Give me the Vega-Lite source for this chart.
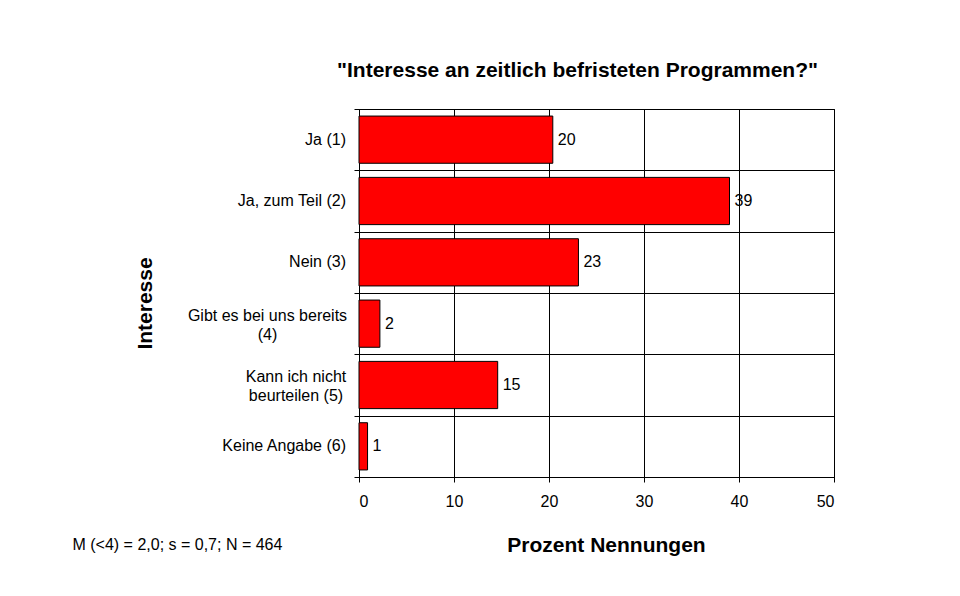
{
  "$schema": "https://vega.github.io/schema/vega-lite/v6.json",
  "width": 475,
  "height": 368,
  "autosize": {"type": "none"},
  "padding": {"left": 359, "top": 109, "right": 126, "bottom": 119},
  "background": "white",
  "config": {
    "font": "Liberation Sans",
    "view": {"stroke": "black", "strokeWidth": 1}
  },
  "title": {
    "text": "\"Interesse an zeitlich befristeten Programmen?\"",
    "fontSize": 21,
    "fontWeight": "bold",
    "color": "black",
    "anchor": "middle",
    "frame": "group",
    "dx": -19,
    "baseline": "alphabetic",
    "offset": 11
  },
  "data": {
    "values": [
      {"kategorie": "Ja (1)", "prozent": 20.4},
      {"kategorie": "Ja, zum Teil (2)", "prozent": 39.0},
      {"kategorie": "Nein (3)", "prozent": 23.1},
      {"kategorie": "Gibt es bei uns bereits|(4)", "prozent": 2.2},
      {"kategorie": "Kann ich nicht|beurteilen (5)", "prozent": 14.6},
      {"kategorie": "Keine Angabe (6)", "prozent": 0.9}
    ]
  },
  "encoding": {
    "x": {
      "field": "prozent",
      "type": "quantitative",
      "scale": {"domain": [0, 50], "nice": false},
      "axis": {
        "values": [0, 10, 20, 30, 40, 50],
        "title": "Prozent Nennungen",
        "titleFontSize": 21,
        "titleFontWeight": "bold",
        "titleColor": "black",
        "titleX": 247,
        "titleY": 74,
        "titleAlign": "center",
        "titleBaseline": "alphabetic",
        "labelFontSize": 16,
        "labelColor": "black",
        "labelPadding": 11,
        "grid": true,
        "gridColor": "black",
        "gridOpacity": 1,
        "tickColor": "black",
        "tickSize": 5,
        "domainColor": "black"
      }
    }
  },
  "layer": [
    {
      "mark": {"type": "bar", "color": "#FF0000", "stroke": "black", "strokeWidth": 1, "height": {"band": 0.77}},
      "encoding": {
        "y": {
          "field": "kategorie",
          "type": "nominal",
          "sort": null,
          "scale": {"paddingInner": 0, "paddingOuter": 0},
          "axis": {
            "orient": "left",
            "title": "Interesse",
            "titleFontSize": 21,
            "titleFontWeight": "bold",
            "titleColor": "black",
            "titleAngle": 270,
            "titleX": -214,
            "titleY": 194,
            "titleAlign": "center",
            "titleBaseline": "middle",
            "labels": false,
            "tickBand": "extent",
            "grid": true,
            "gridColor": "black",
            "gridOpacity": 1,
            "tickColor": "black",
            "tickSize": 5,
            "domainColor": "black"
          }
        }
      }
    },
    {
      "mark": {"type": "text", "align": "left", "baseline": "middle", "dx": 5, "fontSize": 16, "color": "black"},
      "encoding": {
        "y": {
          "field": "kategorie",
          "type": "nominal",
          "sort": null,
          "axis": {
            "orient": "right",
            "labels": false,
            "ticks": false,
            "domain": false,
            "grid": false,
            "title": "M (<4) = 2,0; s = 0,7; N = 464",
            "titleFontSize": 16,
            "titleFontWeight": "normal",
            "titleColor": "black",
            "titleAngle": 0,
            "titleX": -762,
            "titleY": 440,
            "titleAlign": "left",
            "titleBaseline": "alphabetic"
          }
        },
        "text": {"field": "prozent", "type": "quantitative", "format": ".0f"}
      }
    },
    {
      "mark": {
        "type": "text",
        "baseline": "middle",
        "lineBreak": "|",
        "lineHeight": 19,
        "fontSize": 16,
        "color": "black",
        "align": {"expr": "indexof(datum.kategorie, '|') >= 0 ? 'center' : 'right'"},
        "dx": {"expr": "indexof(datum.kategorie, 'Gibt') >= 0 ? -91.5 : (indexof(datum.kategorie, 'Kann') >= 0 ? -63 : -13)"},
        "dy": {"expr": "indexof(datum.kategorie, '|') >= 0 ? -8 : 0"}
      },
      "encoding": {
        "y": {"field": "kategorie", "type": "nominal", "sort": null, "axis": null},
        "x": {"datum": 0},
        "text": {"field": "kategorie", "type": "nominal"}
      }
    }
  ],
  "resolve": {"axis": {"y": "independent"}}
}
